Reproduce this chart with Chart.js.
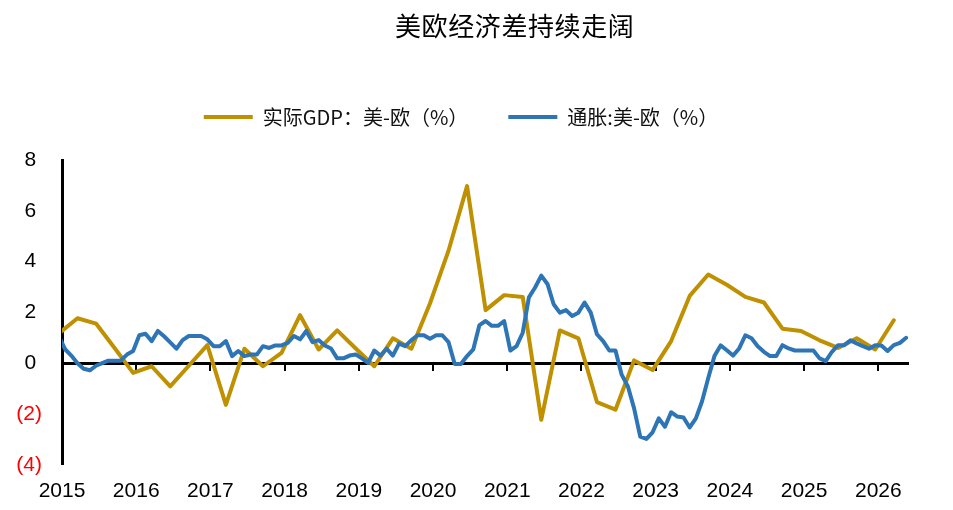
<!DOCTYPE html>
<html>
<head>
<meta charset="utf-8">
<script src="https://cdn.jsdelivr.net/npm/chart.js@4/dist/chart.umd.min.js"></script>
<style>
  html, body { margin: 0; padding: 0; background: #fff; }
  #wrap { position: relative; width: 953px; height: 510px; }
  #title { position: absolute; left: 395px; top: 10px; font-family: "Noto Sans CJK SC", sans-serif; font-size: 26px; line-height: 30px; letter-spacing: 0.6px; color: #000; white-space: nowrap; }
  canvas { position: absolute; left: 0; top: 0; }
</style>
</head>
<body>
<div id="wrap">
  <canvas id="c" width="953" height="510"></canvas>
  <div id="title">美欧经济差持续走阔</div>
</div>
<script>
// ---- data ----
const chartTitle = '美欧经济差持续走阔';
const gdpLabel = '实际GDP：美-欧（%）';
const cpiLabel = '通胀:美-欧（%）';
const yearTicks = [2015, 2016, 2017, 2018, 2019, 2020, 2021, 2022, 2023, 2024, 2025, 2026];

// Real GDP gap, quarterly, starting 2014 Q4
const gdpStart = { year: 2014, quarter: 4 };
const gdpDiff = [1.17,
  1.77, 1.56, 0.60, -0.38,
  -0.12, -0.91, -0.10, 0.71,
  -1.64, 0.57, -0.12, 0.41,
  1.89, 0.54, 1.29, 0.58,
  -0.12, 0.98, 0.57, 2.35,
  4.43, 6.97, 2.09, 2.68,
  2.61, -2.23, 1.29, 0.98,
  -1.53, -1.83, 0.11, -0.27,
  0.87, 2.65, 3.49, 3.09,
  2.61, 2.39, 1.36, 1.27,
  0.90, 0.60, 0.98, 0.54,
  1.69];

// Inflation gap, monthly, starting 2014-12
const cpiStart = { year: 2014, month: 12 };
const cpiDiff = [1.05,
  0.55, 0.30, 0.00, -0.22, -0.28, -0.10, 0.00, 0.10, 0.10, 0.10, 0.34, 0.48,
  1.10, 1.16, 0.87, 1.27, 1.06, 0.82, 0.57, 0.91, 1.07, 1.07, 1.07, 0.94,
  0.67, 0.67, 0.87, 0.28, 0.48, 0.28, 0.34, 0.34, 0.67, 0.60, 0.70, 0.70,
  0.80, 1.07, 0.94, 1.27, 0.83, 0.91, 0.70, 0.58, 0.19, 0.19, 0.30, 0.34,
  0.19, 0.01, 0.50, 0.30, 0.57, 0.30, 0.77, 0.67, 0.91, 1.10, 1.10, 0.96,
  1.10, 1.10, 0.83, -0.03, -0.03, 0.28, 0.54, 1.50, 1.66, 1.47, 1.47, 1.66,
  0.50, 0.67, 1.20, 2.59, 2.98, 3.45, 3.12, 2.32, 1.99, 2.09, 1.86, 1.99,
  2.39, 1.99, 1.14, 0.87, 0.50, 0.50, -0.45, -0.91, -1.77, -2.89, -2.98, -2.72,
  -2.17, -2.50, -1.93, -2.10, -2.14, -2.53, -2.17, -1.50, -0.58, 0.28, 0.70, 0.51,
  0.30, 0.58, 1.10, 0.98, 0.67, 0.45, 0.28, 0.28, 0.71, 0.58, 0.50, 0.50,
  0.50, 0.50, 0.19, 0.08, 0.45, 0.71, 0.71, 0.90, 0.78, 0.67, 0.57, 0.71,
  0.70, 0.48, 0.71, 0.80, 1.00];

const xMin = 2015, xMax = 2026.4;
const yMin = -4, yMax = 8, yStep = 2;

// ---- build points (dates -> decimal years, mid-month) ----
const gdpPoints = gdpDiff.map((v, i) => {
  const q = gdpStart.quarter - 1 + i;
  const year = gdpStart.year + Math.floor(q / 4);
  const month = (q % 4) * 3 + 3;
  return { x: year + (month - 0.5) / 12, y: v };
});
const cpiPoints = cpiDiff.map((v, i) => {
  const m = cpiStart.month - 1 + i;
  const year = cpiStart.year + Math.floor(m / 12);
  const month = (m % 12) + 1;
  return { x: year + (month - 0.5) / 12, y: v };
});

const GOLD = '#BF9000';
const BLUE = '#2E75B6';

const legendGap = {
  id: 'legendGap',
  beforeInit(chart) {
    const fit = chart.legend.fit;
    chart.legend.fit = function () { fit.call(this); this.height += 23; };
  }
};

const yearFilter = (scale) => {
  scale.ticks = yearTicks.map(v => ({ value: v }));
};

new Chart(document.getElementById('c'), {
  type: 'line',
  data: {
    datasets: [
      { label: gdpLabel, data: gdpPoints, borderColor: GOLD, backgroundColor: GOLD, borderWidth: 4, pointRadius: 0, tension: 0, borderJoinStyle: 'round', borderCapStyle: 'round', order: 1 },
      { label: cpiLabel, data: cpiPoints, borderColor: BLUE, backgroundColor: BLUE, borderWidth: 4, pointRadius: 0, tension: 0, borderJoinStyle: 'round', borderCapStyle: 'round', order: 0 }
    ]
  },
  options: {
    responsive: false,
    animation: false,
    devicePixelRatio: 1,
    layout: { padding: { top: 67, left: 14, right: 45, bottom: 8 } },
    plugins: {
      title: { display: false, text: chartTitle },
      tooltip: { enabled: false },
      legend: {
        position: 'top',
        labels: {
          boxWidth: 49,
          boxHeight: 4,
          padding: 40,
          color: '#111',
          font: { family: '"Noto Sans CJK SC", sans-serif', size: 20 },
          sort: (a, b) => a.datasetIndex - b.datasetIndex,
          generateLabels: (chart) => Chart.defaults.plugins.legend.labels.generateLabels(chart)
            .map(l => Object.assign(l, { lineWidth: 0, fillStyle: l.strokeStyle }))
        }
      }
    },
    scales: {
      x: {
        type: 'linear',
        position: 'bottom',
        min: xMin, max: xMax,
        afterBuildTicks: yearFilter,
        afterFit: (scale) => { scale.height = scale.height - 16; },
        grid: { display: false, drawTicks: false },
        border: { display: false },
        ticks: {
          padding: 14,
          color: '#000',
          maxRotation: 0,
          autoSkip: false,
          font: { family: '"Liberation Sans", Arial, sans-serif', size: 21 },
          callback: (v) => String(v)
        }
      },
      x2: {
        type: 'linear',
        axis: 'x',
        position: { y: 0 },
        min: xMin, max: xMax,
        afterBuildTicks: yearFilter,
        grid: { drawOnChartArea: false, drawTicks: true, tickLength: 6, color: '#000', lineWidth: 2 },
        border: { display: true, color: '#000', width: 3 },
        ticks: { display: false }
      },
      y: {
        min: yMin, max: yMax,
        afterFit: (scale) => { scale.width = 48; },
        grid: { display: true, drawOnChartArea: false, drawTicks: false },
        border: { display: true, color: '#000', width: 3 },
        ticks: {
          stepSize: yStep,
          padding: 20,
          font: { family: '"Liberation Sans", Arial, sans-serif', size: 21 },
          color: (ctx) => ctx.tick.value < 0 ? '#FF0000' : '#000',
          callback: (v) => v < 0 ? '(' + (-v) + ')' : v + ' '
        }
      }
    }
  },
  plugins: [legendGap]
});
</script>
</body>
</html>
